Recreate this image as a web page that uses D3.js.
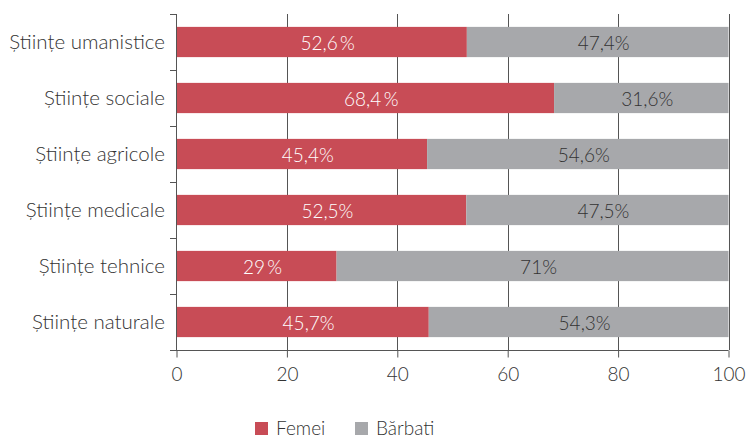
<!DOCTYPE html>
<html>
<head>
<meta charset="utf-8">
<script src="https://cdn.jsdelivr.net/npm/d3@7"></script>
<style>
  body { margin: 0; background: #fff; }
  text { font-family: Lato, "Open Sans", sans-serif; font-weight: 300; }
</style>
</head>
<body>
<div id="chart"></div>
<script>
const categories = ["Științe umanistice", "Științe sociale", "Științe agricole", "Științe medicale", "Științe tehnice", "Științe naturale"]
const femei = [52.6, 68.4, 45.4, 52.5, 29, 45.7]
const barbati = [47.4, 31.6, 54.6, 47.5, 71, 54.3]
const femeiLabels = ["52,6\u2009%", "68,4\u2009%", "45,4%", "52,5%", "29\u2009%", "45,7%"]
const barbatiLabels = ["47,4%", "31,6%", "54,6%", "47,5%", "71%", "54,3%"]
const seriesNames = ["Femei", "Bărbati"]
const xTicks = [0, 20, 40, 60, 80, 100]

const width = 747, height = 437
const colors = {Femei: "#c84c56", "Bărbati": "#a7a8ab"}
const axisColor = "#555"

const svg = d3.select("#chart").append("svg").attr("width", width).attr("height", height)

const x = d3.scaleLinear().domain([0, 100]).range([176.5, 728.5])
const y = d3.scaleBand().domain(categories).range([14, 350]).paddingInner(0.46).paddingOuter(0.23)
const yBand = d3.scaleBand().domain(categories).range([14, 350])

// vertical grid
svg.append("g").selectAll("line").data(xTicks.slice(1)).join("line")
  .attr("x1", d => Math.round(x(d)) + 0.5).attr("x2", d => Math.round(x(d)) + 0.5)
  .attr("y1", 14).attr("y2", 350)
  .attr("stroke", axisColor).attr("stroke-width", 1)

const rows = categories.map((c, i) => ({cat: c, f: femei[i], b: barbati[i], fl: femeiLabels[i], bl: barbatiLabels[i]}))

const row = svg.append("g").selectAll("g").data(rows).join("g")

row.append("rect")
  .attr("x", x(0)).attr("y", d => y(d.cat))
  .attr("width", d => x(d.f) - x(0)).attr("height", y.bandwidth())
  .attr("fill", colors.Femei)
row.append("rect")
  .attr("x", d => x(d.f)).attr("y", d => y(d.cat))
  .attr("width", d => x(d.f + d.b) - x(d.f)).attr("height", y.bandwidth())
  .attr("fill", colors["Bărbati"])

row.append("text")
  .attr("x", d => (x(0) + x(d.f)) / 2 + 6)
  .attr("y", d => y(d.cat) + y.bandwidth() / 2 + 8)
  .attr("text-anchor", "middle").attr("font-size", 19).attr("fill", "#fff")
  .text(d => d.fl)
row.append("text")
  .attr("x", d => (x(d.f) + x(d.f + d.b)) / 2 + 6)
  .attr("y", d => y(d.cat) + y.bandwidth() / 2 + 8)
  .attr("text-anchor", "middle").attr("font-size", 19).attr("fill", "#333")
  .text(d => d.bl)

// y axis
const yAxis = svg.append("g")
yAxis.append("line").attr("x1", 176.5).attr("x2", 176.5).attr("y1", 14).attr("y2", 350)
  .attr("stroke", axisColor)
const bounds = categories.map(c => yBand(c)).concat([350])
yAxis.selectAll("line.tick").data(bounds).join("line").attr("class", "tick")
  .attr("x1", 170).attr("x2", 176.5)
  .attr("y1", d => Math.round(d) + 0.5).attr("y2", d => Math.round(d) + 0.5)
  .attr("stroke", axisColor)
yAxis.selectAll("text").data(categories).join("text")
  .attr("x", 165).attr("y", d => yBand(d) + yBand.bandwidth() / 2 + 7)
  .attr("text-anchor", "end").attr("font-size", 20.5).attr("fill", "#333")
  .text(d => d)

// x axis
const xAxis = svg.append("g").attr("transform", "translate(0,350.5)")
  .call(d3.axisBottom(x).tickValues(xTicks).tickSize(7).tickPadding(10))
xAxis.select(".domain").attr("d", `M170,0H${x(100)}`).attr("stroke", axisColor)
xAxis.selectAll(".tick line").attr("stroke", axisColor)
xAxis.selectAll(".tick text").attr("font-size", 19).attr("fill", "#333")
  .attr("font-family", "Lato, sans-serif").attr("font-weight", 300)

// legend
const legend = svg.append("g").attr("transform", "translate(255,422)")
const li = legend.selectAll("g").data(seriesNames).join("g")
  .attr("transform", (d, i) => `translate(${i * 100},0)`)
li.append("rect").attr("width", 13).attr("height", 13).attr("fill", d => colors[d])
li.append("text").attr("x", 21).attr("y", 12.5).attr("font-size", 19).attr("fill", "#333").text(d => d)
</script>
</body>
</html>
